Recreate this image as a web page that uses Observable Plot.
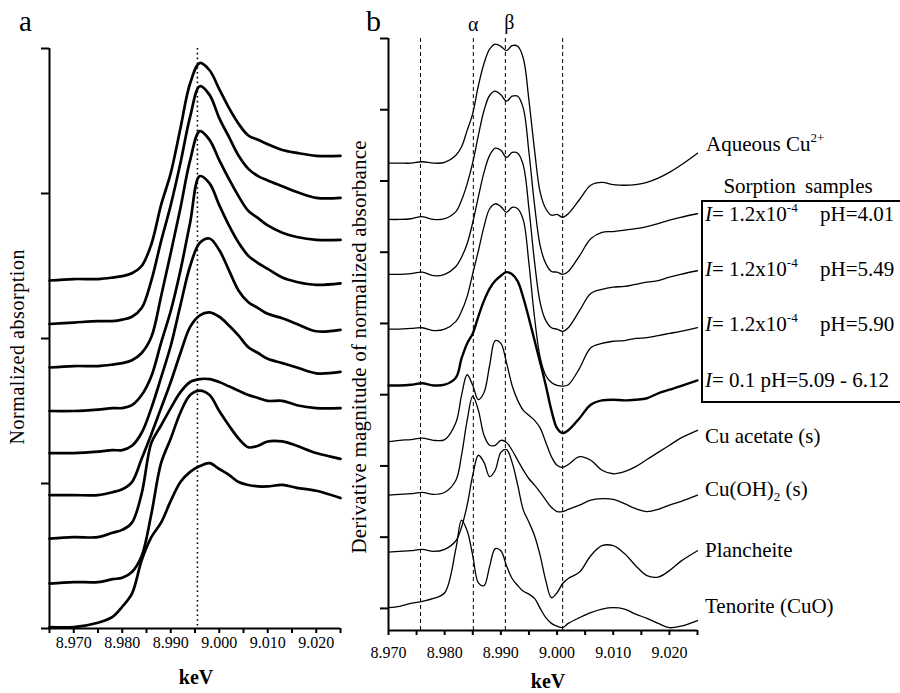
<!DOCTYPE html>
<html><head><meta charset="utf-8">
<script src="https://cdn.jsdelivr.net/npm/d3@7"></script>
<script src="https://cdn.jsdelivr.net/npm/@observablehq/plot@0.6"></script>
<style>
body{margin:0;background:#fff;}
#wrap{position:relative;width:900px;height:693px;overflow:hidden;background:#fff;font-family:"Liberation Serif","Times New Roman",serif;}
.pane{position:absolute;top:0;}
</style></head><body><div id="wrap"><div class="pane" id="pa" style="left:0;width:360px"></div><div class="pane" id="pb" style="left:360px;width:540px"></div></div>
<script>
const FONT = "Liberation Serif, Times New Roman, serif";

// ---------- Panel a : normalized absorption (stacked) ----------
const keVA = [8.965,8.970,8.975,8.978,8.980,8.982,8.984,8.986,8.988,8.990,8.992,8.994,8.996,8.998,9.000,9.002,9.004,9.006,9.008,9.010,9.013,9.016,9.020,9.025];
const absA1 = [2.40,2.41,2.41,2.42,2.43,2.45,2.50,2.65,2.92,3.14,3.45,3.76,3.90,3.85,3.72,3.59,3.48,3.40,3.37,3.34,3.30,3.28,3.26,3.26];
const absA2 = [2.10,2.11,2.12,2.12,2.13,2.15,2.21,2.40,2.67,2.92,3.21,3.53,3.74,3.68,3.52,3.39,3.26,3.17,3.12,3.09,3.05,3.01,2.97,2.97];
const absA3 = [1.80,1.81,1.81,1.82,1.83,1.85,1.90,2.01,2.29,2.59,2.90,3.23,3.43,3.37,3.23,3.10,2.98,2.88,2.83,2.78,2.73,2.70,2.68,2.68];
const absA4 = [1.50,1.50,1.51,1.52,1.52,1.54,1.61,1.74,1.97,2.19,2.47,2.80,3.12,3.07,2.92,2.78,2.66,2.57,2.52,2.48,2.42,2.39,2.37,2.38];
const absA5 = [1.21,1.21,1.22,1.23,1.23,1.26,1.35,1.52,1.73,1.95,2.23,2.50,2.66,2.69,2.61,2.47,2.33,2.25,2.21,2.17,2.14,2.10,2.05,2.06];
const absA6 = [0.92,0.92,0.92,0.94,0.96,1.01,1.17,1.34,1.52,1.70,1.90,2.08,2.16,2.18,2.15,2.09,2.02,1.94,1.90,1.86,1.83,1.80,1.76,1.77];
const absA7 = [0.62,0.63,0.63,0.66,0.68,0.73,0.93,1.28,1.40,1.52,1.63,1.70,1.72,1.72,1.70,1.67,1.64,1.61,1.59,1.57,1.57,1.54,1.52,1.52];
const absA8 = [0.31,0.32,0.32,0.34,0.35,0.39,0.50,0.79,1.14,1.31,1.49,1.61,1.64,1.61,1.50,1.40,1.31,1.25,1.26,1.29,1.29,1.26,1.21,1.17];
const absA9 = [0.01,0.01,0.04,0.08,0.15,0.24,0.47,0.63,0.73,0.88,1.01,1.08,1.12,1.14,1.10,1.06,1.01,0.99,0.98,0.98,0.99,0.97,0.95,0.90];
const xDomainA = [8.965, 9.025];
const yDomainA = [0, 4];
const majorTicksA = [8.970, 8.980, 8.990, 9.000, 9.010, 9.020];
const minorTicksA = [8.965, 8.975, 8.985, 8.995, 9.005, 9.015, 9.025];
const yTicksA = [0, 1, 2, 3, 4];
const dottedA = [8.9955];

// ---------- Panel b : derivative spectra (stacked) ----------
const keVB = [8.970,8.972,8.974,8.976,8.978,8.980,8.982,8.983,8.984,8.985,8.986,8.987,8.988,8.989,8.990,8.991,8.992,8.993,8.994,8.995,8.996,8.997,8.998,8.999,9.000,9.001,9.002,9.004,9.006,9.008,9.010,9.012,9.014,9.016,9.018,9.020,9.022,9.025];
const dAqueous = [6.25,6.25,6.25,6.27,6.25,6.26,6.36,6.48,6.71,6.95,7.34,7.65,7.85,7.92,7.89,7.83,7.90,7.89,7.72,7.13,6.43,5.84,5.61,5.52,5.53,5.49,5.54,5.74,5.94,5.98,5.95,5.94,5.95,5.98,6.04,6.12,6.22,6.39];
const dPH401 = [5.46,5.46,5.47,5.50,5.46,5.47,5.57,5.73,5.96,6.26,6.64,6.99,7.20,7.26,7.21,7.12,7.19,7.19,7.02,6.40,5.66,5.09,4.84,4.73,4.72,4.69,4.73,4.95,5.19,5.28,5.29,5.31,5.33,5.36,5.40,5.45,5.49,5.54];
const dPH549 = [4.69,4.69,4.70,4.72,4.67,4.69,4.80,4.93,5.12,5.42,5.78,6.12,6.36,6.46,6.43,6.33,6.40,6.39,6.22,5.61,4.86,4.29,4.04,3.94,3.92,3.89,3.94,4.18,4.42,4.48,4.51,4.52,4.55,4.58,4.60,4.65,4.69,4.74];
const dPH590 = [3.92,3.92,3.93,3.94,3.90,3.92,4.03,4.17,4.38,4.70,5.02,5.36,5.61,5.68,5.64,5.56,5.63,5.61,5.45,4.84,4.08,3.52,3.27,3.17,3.13,3.12,3.14,3.37,3.66,3.72,3.75,3.76,3.79,3.80,3.83,3.86,3.89,3.94];
const dI01 = [3.13,3.13,3.14,3.16,3.13,3.14,3.24,3.51,3.72,3.86,4.10,4.32,4.49,4.60,4.67,4.72,4.69,4.59,4.36,4.07,3.76,3.45,3.13,2.78,2.53,2.46,2.50,2.67,2.86,2.92,2.93,2.92,2.93,2.95,3.02,3.07,3.12,3.20];
const dCuAcetate = [2.34,2.36,2.37,2.39,2.36,2.37,2.61,2.99,3.28,3.13,2.93,3.03,3.41,3.76,3.72,3.45,3.13,2.92,2.78,2.71,2.64,2.53,2.33,2.13,2.01,1.98,2.02,2.13,2.08,1.94,1.89,1.92,1.99,2.09,2.19,2.29,2.39,2.50];
const dCuOH2 = [1.59,1.60,1.61,1.63,1.60,1.63,1.80,2.15,2.64,2.98,2.78,2.43,2.29,2.29,2.36,2.33,2.22,2.08,1.94,1.82,1.73,1.63,1.52,1.42,1.36,1.36,1.39,1.45,1.52,1.54,1.53,1.47,1.40,1.36,1.39,1.45,1.50,1.59];
const dPlancheite = [0.79,0.80,0.81,0.83,0.80,0.83,0.95,1.14,1.45,1.87,2.15,2.05,1.85,1.94,2.19,2.23,2.05,1.73,1.38,1.21,1.02,0.74,0.39,0.15,0.22,0.35,0.42,0.51,0.74,0.88,0.88,0.77,0.60,0.46,0.44,0.53,0.66,0.81];
const dTenorite = [0.01,0.03,0.07,0.10,0.14,0.22,0.84,1.24,1.09,0.74,0.36,0.32,0.59,0.84,0.81,0.60,0.42,0.32,0.24,0.20,0.14,0.00,-0.13,-0.21,-0.25,-0.27,-0.21,-0.13,-0.06,-0.01,0.01,-0.01,-0.08,-0.14,-0.21,-0.27,-0.25,-0.17];
const xDomainB = [8.970, 9.025];
const yDomainB = [-0.31, 8];
const majorTicksB = [8.970, 8.980, 8.990, 9.000, 9.010, 9.020];
const minorTicksB = [8.975, 8.985, 8.995, 9.005, 9.015, 9.025];
const yTicksB = [0, 1, 2, 3, 4, 5, 6, 7, 8];
const dashedB = [8.9757, 8.9851, 8.9908, 9.0010];
const alphaB = [{x: 8.9851, t: "α"}];
const betaB = [{x: 8.9908, t: "β"}];

// ---------- helpers ----------
const curveLine = (xs, ys, w) => Plot.line(xs.map((x, i) => [x, ys[i]]),
  {curve: "catmull-rom", stroke: "#000", strokeWidth: w, strokeLinejoin: "round", strokeLinecap: "round"});

const plotA = Plot.plot({
  width: 360, height: 693,
  marginLeft: 49, marginRight: 20, marginTop: 48, marginBottom: 65,
  x: {domain: xDomainA, label: null},
  y: {domain: yDomainA, label: null},
  style: {fontFamily: FONT, fontSize: "16px", color: "#000", background: "transparent", overflow: "visible"},
  marks: [
    Plot.ruleX(dottedA, {stroke: "#000", strokeWidth: 1.6, strokeDasharray: "1.6,3.2"}),
    ...[absA1, absA2, absA3, absA4, absA5, absA6, absA7, absA8, absA9].map(c => curveLine(keVA, c, 2.7)),
    Plot.ruleX([xDomainA[0]], {stroke: "#000", strokeWidth: 2}),
    Plot.ruleY([yDomainA[0]], {stroke: "#000", strokeWidth: 2}),
    Plot.axisX({ticks: majorTicksA, tickFormat: d3.format(".3f"), tickSize: 5, tickPadding: 3, strokeWidth: 2}),
    Plot.axisX({ticks: minorTicksA, tickFormat: () => "", tickSize: 5, strokeWidth: 2}),
    Plot.axisY({ticks: yTicksA, tickFormat: () => "", tickSize: 8, strokeWidth: 2})
  ]
});
document.getElementById("pa").appendChild(plotA);

const curvesB = [dAqueous, dPH401, dPH549, dPH590, dI01, dCuAcetate, dCuOH2, dPlancheite, dTenorite];
const plotB = Plot.plot({
  width: 540, height: 693,
  marginLeft: 28, marginRight: 203, marginTop: 38, marginBottom: 63,
  x: {domain: xDomainB, label: null},
  y: {domain: yDomainB, label: null},
  style: {fontFamily: FONT, fontSize: "16px", color: "#000", background: "transparent", overflow: "visible"},
  marks: [
    Plot.ruleX(dashedB, {stroke: "#000", strokeWidth: 1, strokeDasharray: "4,3"}),
    ...curvesB.map((c, i) => curveLine(keVB, c, i === 4 ? 2.4 : 1.3)),
    Plot.ruleX([xDomainB[0]], {stroke: "#000", strokeWidth: 2}),
    Plot.ruleY([yDomainB[0]], {stroke: "#000", strokeWidth: 2}),
    Plot.axisX({ticks: majorTicksB, tickFormat: d3.format(".3f"), tickSize: 5, tickPadding: 11, strokeWidth: 2}),
    Plot.axisX({ticks: minorTicksB, tickFormat: () => "", tickSize: 5, strokeWidth: 2}),
    Plot.axisY({ticks: yTicksB, tickFormat: () => "", tickSize: 8, strokeWidth: 2}),
    Plot.text(alphaB, {x: "x", y: () => yDomainB[1], text: "t", dy: -14, fontSize: 20, fill: "#000"}),
    Plot.text(betaB, {x: "x", y: () => yDomainB[1], text: "t", dx: 4, dy: -16, fontSize: 20, fill: "#000"})
  ]
});
document.getElementById("pb").appendChild(plotB);

// force serif font on every text that Plot produced
d3.selectAll("#pa svg, #pb svg").style("font-family", FONT);
d3.selectAll("#pa svg text, #pb svg text").style("font-family", FONT);
d3.selectAll("#pa svg g[aria-label='x-axis tick label'] text, #pb svg g[aria-label='x-axis tick label'] text")
  .style("font-size", "16px");

// ---------- annotations ----------
const ov = d3.select("#wrap").append("svg")
  .attr("width", 900).attr("height", 693)
  .style("position", "absolute").style("left", 0).style("top", 0)
  .style("pointer-events", "none")
  .style("font-family", FONT).attr("fill", "#000");

function txt(x, y, parts, opts = {}) {
  const t = ov.append("text").attr("x", x).attr("y", y)
    .attr("font-size", opts.size || 21)
    .attr("text-anchor", opts.anchor || "start");
  if (opts.weight) t.attr("font-weight", opts.weight);
  if (opts.rotate) t.attr("transform", `rotate(-90 ${x} ${y})`);
  if (opts.len) t.attr("textLength", opts.len).attr("lengthAdjust", "spacing");
  (Array.isArray(parts) ? parts : [{s: parts}]).forEach(p => {
    const ts = t.append("tspan").text(p.s);
    if (p.italic) ts.attr("font-style", "italic");
    if (p.size) ts.attr("font-size", p.size);
    if (p.dy) ts.attr("dy", p.dy);
  });
  return t;
}

txt(19, 31, "a", {size: 29});
txt(366, 31, "b", {size: 30});
txt(24, 347, "Normalized absorption", {size: 20, anchor: "middle", rotate: true, len: 195});
txt(366, 347, "Derivative magnitude of normalized absorbance", {size: 21, anchor: "middle", rotate: true, len: 413});
txt(196, 684, "keV", {size: 20, anchor: "middle", weight: "bold"});
txt(548, 688, "keV", {size: 20, anchor: "middle", weight: "bold"});

txt(706, 151, [{s: "Aqueous Cu"}, {s: "2+", size: 13, dy: -9}]);
txt(798, 193, "Sorption samples", {anchor: "middle"}).attr("word-spacing", 4);

const sorptionRows = [
  {y: 221, ph: "pH=4.01"},
  {y: 276, ph: "pH=5.49"},
  {y: 331, ph: "pH=5.90"}
];
sorptionRows.forEach(r => {
  txt(705, r.y, [{s: "I", italic: true}, {s: "= 1.2x10"}, {s: "-4", size: 13, dy: -9}]);
  txt(820, r.y, r.ph);
});
txt(705, 387, [{s: "I", italic: true}, {s: "= 0.1 pH=5.09 - 6.12"}]);
txt(705, 443, "Cu acetate (s)");
txt(705, 496, [{s: "Cu(OH)"}, {s: "2", size: 13, dy: 5}, {s: " (s)", dy: -5}]);
txt(705, 557, "Plancheite");
txt(705, 613, "Tenorite (CuO)");

ov.append("path").attr("d", "M900,201H702V402H900")
  .attr("fill", "none").attr("stroke", "#000").attr("stroke-width", 2);
</script>
</body></html>
